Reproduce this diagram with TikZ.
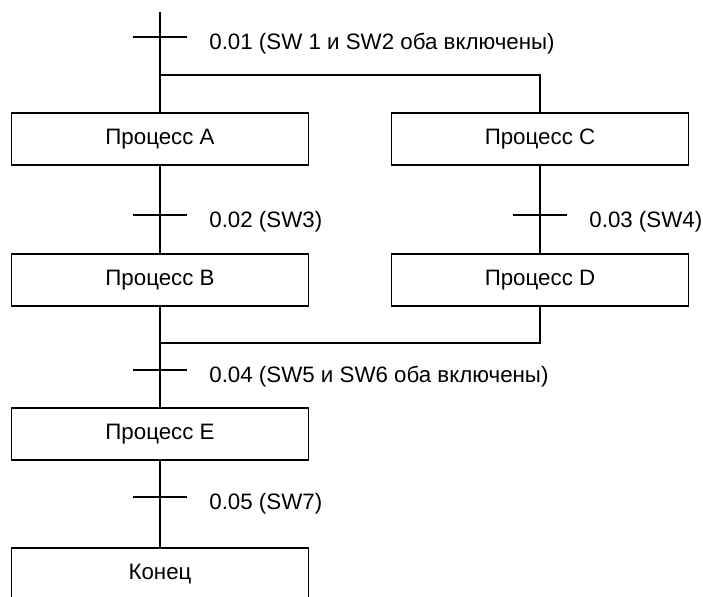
\documentclass[tikz,border=0pt]{standalone}
\usepackage{fontspec}
\setmainfont{Liberation Sans}

\begin{document}
\begin{tikzpicture}[x=0.02cm,y=-0.02cm,line width=0.6pt,
    font=\fontsize{12.7}{15}\selectfont,
    procbox/.style={draw,minimum width=5.94cm,minimum height=1.04cm,inner sep=0pt},
    condlabel/.style={anchor=base west}]
    \useasboundingbox (0,0) rectangle (703,596);
    \clip (0,0) rectangle (703,596);

    % steps
    \node[procbox] (procA) at (160,139) {Процесс A};
    \node[procbox] (procC) at (540,139) {Процесс C};
    \node[procbox] (procB) at (160,280) {Процесс B};
    \node[procbox] (procD) at (540,280) {Процесс D};
    \node[procbox] (procE) at (160,434) {Процесс E};
    \node[procbox] (konec) at (160,574) {Конец};

    % branch and merge points
    \coordinate (start) at (160,12);
    \coordinate (split) at (160,75);
    \coordinate (join) at (160,343);

    \draw (start) -- (procA.north);
    \draw (split) -| (procC.north);
    \draw (procA) -- (procB);
    \draw (procC) -- (procD);
    \draw (procB.south) -- (join) -- (procE.north);
    \draw (procD.south) |- (join);
    \draw (procE) -- (konec);

    % transitions with their conditions
    \foreach \x/\y/\txt [count=\i] in {
        160/37/{0.01 (SW 1 и SW2 оба включены)},
        160/215/{0.02 (SW3)},
        540/215/{0.03 (SW4)},
        160/370/{0.04 (SW5 и SW6 оба включены)},
        160/497/{0.05 (SW7)}} {
        \draw (\x-27,\y) -- (\x+27,\y);
        \node[condlabel] (cond\i) at (\x+43,\y+12) {\txt};
    }
\end{tikzpicture}
\end{document}
